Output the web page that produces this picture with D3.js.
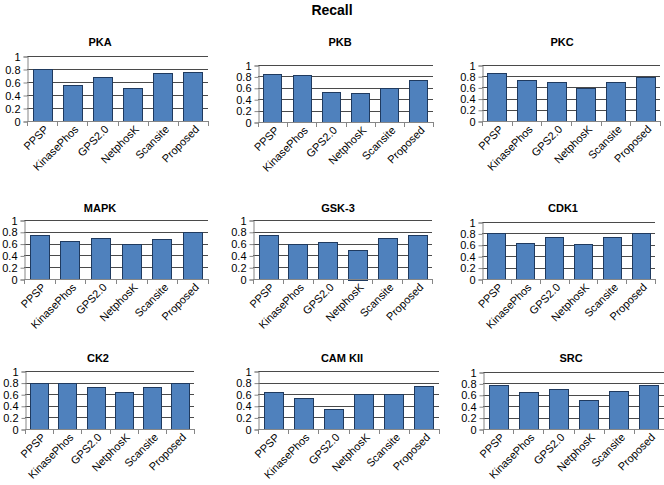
<!DOCTYPE html>
<html>
<head>
<meta charset="utf-8">
<script src="https://cdn.jsdelivr.net/npm/d3@7"></script>
<style>
  body { margin: 0; background: #fff; }
  svg { display: block; font-family: "Liberation Sans", Arial, sans-serif; }
</style>
</head>
<body>
<svg id="chart" width="664" height="485"></svg>
<script>
// ---- data ----
const chartTitle = "Recall";
const methods = ["PPSP", "KinasePhos", "GPS2.0", "NetphosK", "Scansite", "Proposed"];
const kinases = ["PKA", "PKB", "PKC", "MAPK", "GSK-3", "CDK1", "CK2", "CAM KII", "SRC"];
const yTicks = [0, 0.2, 0.4, 0.6, 0.8, 1];
const yTickLabels = ["0", "0.2", "0.4", "0.6", "0.8", "1"];

const recallPKA    = [0.80, 0.56, 0.68, 0.51, 0.74, 0.76];
const recallPKB    = [0.85, 0.83, 0.53, 0.51, 0.60, 0.73];
const recallPKC    = [0.85, 0.74, 0.69, 0.59, 0.69, 0.79];
const recallMAPK   = [0.75, 0.64, 0.70, 0.59, 0.67, 0.80];
const recallGSK3   = [0.75, 0.59, 0.62, 0.50, 0.69, 0.75];
const recallCDK1   = [0.80, 0.64, 0.73, 0.62, 0.73, 0.81];
const recallCK2    = [0.80, 0.80, 0.72, 0.63, 0.72, 0.80];
const recallCAMKII = [0.63, 0.54, 0.35, 0.60, 0.60, 0.74];
const recallSRC    = [0.77, 0.65, 0.71, 0.51, 0.67, 0.77];

const seriesValues = [recallPKA, recallPKB, recallPKC, recallMAPK, recallGSK3,
                      recallCDK1, recallCK2, recallCAMKII, recallSRC];

// ---- layout (plot frames) ----
const frames = [
  {l: 27,  r: 208, t: 56,  b: 121, tx: 100, ty: 46},
  {l: 258, r: 433, t: 65,  b: 122, tx: 340, ty: 46},
  {l: 482, r: 660, t: 65,  b: 121, tx: 562, ty: 46},
  {l: 24,  r: 208, t: 220, b: 279, tx: 100, ty: 212},
  {l: 253, r: 432, t: 220, b: 279, tx: 338, ty: 212},
  {l: 482, r: 655, t: 222, b: 279, tx: 563, ty: 212},
  {l: 25,  r: 194, t: 371, b: 429, tx: 98,  ty: 362},
  {l: 258, r: 439, t: 371, b: 429, tx: 342, ty: 362},
  {l: 483, r: 664, t: 372, b: 429, tx: 571, ty: 362}
];

const svg = d3.select("#chart");
svg.append("text")
  .attr("x", 332).attr("y", 15)
  .attr("text-anchor", "middle")
  .attr("font-size", 14).attr("font-weight", "bold")
  .attr("fill", "#000")
  .text(chartTitle);

kinases.forEach((name, i) => {
  const f = frames[i];
  const vals = seriesValues[i];
  const g = svg.append("g");

  const x = d3.scaleBand().domain(methods).range([f.l, f.r]).paddingInner(0.37).paddingOuter(0.185);
  const xb = d3.scaleBand().domain(methods).range([f.l, f.r]);
  const y = d3.scaleLinear().domain([0, 1]).range([f.b, f.t]);

  // gridlines
  g.selectAll("line.grid").data(yTicks.filter(d => d > 0)).join("line")
    .attr("x1", f.l).attr("x2", f.r)
    .attr("y1", d => Math.round(y(d)) + 0.5).attr("y2", d => Math.round(y(d)) + 0.5)
    .attr("stroke", "#4a4a4a").attr("stroke-width", 1);

  // bars
  g.selectAll("rect.bar").data(vals).join("rect")
    .attr("x", (d, j) => Math.round(x(methods[j])) + 0.5)
    .attr("width", Math.round(x.bandwidth()))
    .attr("y", d => Math.round(y(d)) + 0.5)
    .attr("height", d => Math.round(f.b - y(d)))
    .attr("fill", "#4F81BD")
    .attr("stroke", "#1F3A5F").attr("stroke-width", 1);

  // y axis
  const yAxis = d3.axisLeft(y).tickValues(yTicks).tickSize(4).tickPadding(3)
    .tickFormat((d, k) => yTickLabels[k]);
  const ya = g.append("g").attr("transform", `translate(${f.l + 0.5},0.5)`).call(yAxis);
  ya.select(".domain").attr("stroke", "#868686");
  ya.selectAll(".tick line").attr("stroke", "#868686");
  ya.selectAll(".tick text").attr("font-size", 11).attr("fill", "#000")
    .attr("font-family", "'Liberation Sans', Arial, sans-serif");

  // x axis: ticks at band boundaries
  const boundaries = methods.map(m => xb(m)).concat([f.r]);
  g.append("line")
    .attr("x1", f.l).attr("x2", f.r)
    .attr("y1", f.b + 0.5).attr("y2", f.b + 0.5)
    .attr("stroke", "#868686");
  g.selectAll("line.xt").data(boundaries).join("line")
    .attr("x1", d => Math.round(d) + 0.5).attr("x2", d => Math.round(d) + 0.5)
    .attr("y1", f.b).attr("y2", f.b + 5)
    .attr("stroke", "#868686");

  // category labels
  g.selectAll("text.cat").data(methods).join("text")
    .attr("transform", m => `translate(${xb(m) + xb.bandwidth() / 2 + 7},${f.b + 9}) rotate(-45)`)
    .attr("text-anchor", "end")
    .attr("font-size", 11).attr("fill", "#000")
    .text(m => m);

  // panel title
  g.append("text")
    .attr("x", f.tx).attr("y", f.ty)
    .attr("text-anchor", "middle")
    .attr("font-size", 11).attr("font-weight", "bold").attr("fill", "#000")
    .text(name);
});
</script>
</body>
</html>
